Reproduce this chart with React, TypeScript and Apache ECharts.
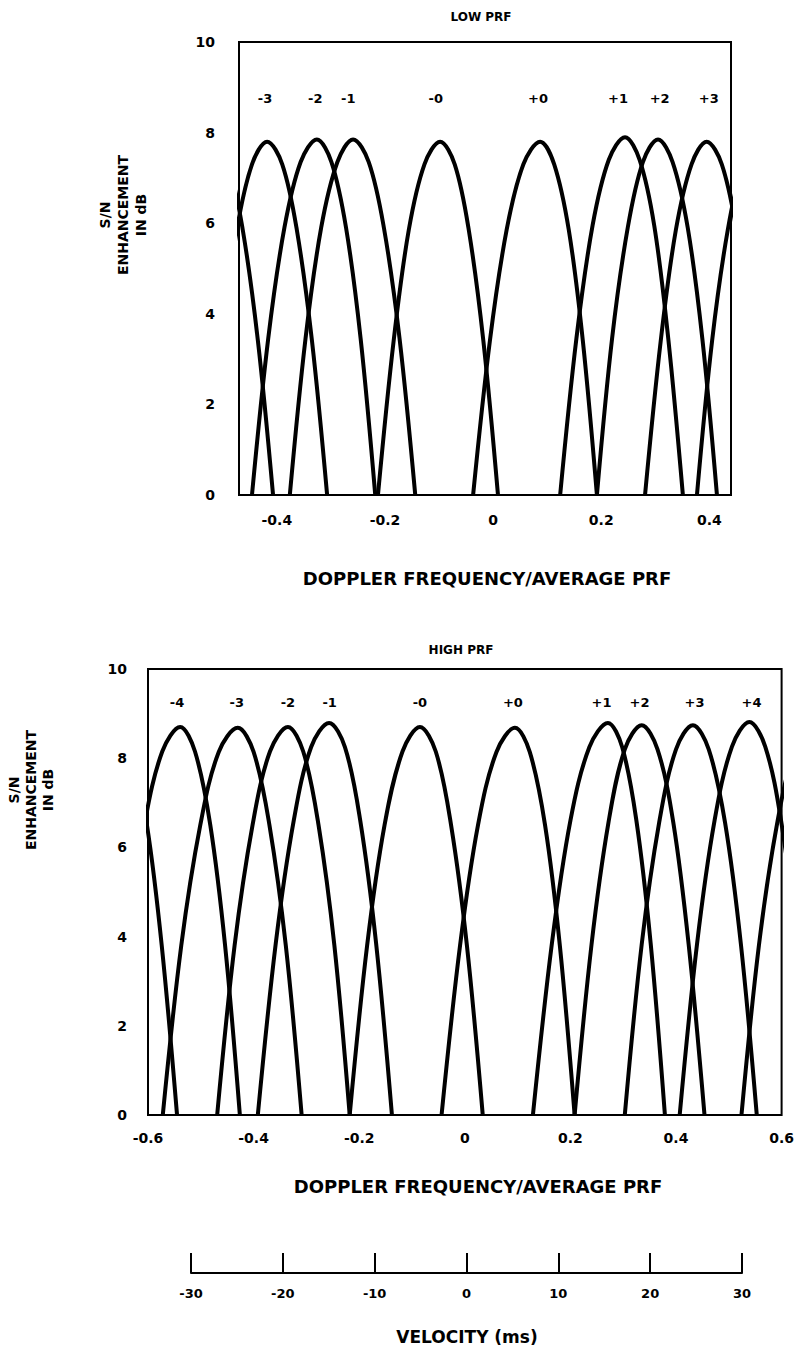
import React, { useEffect, useRef } from "react";
import * as echarts from "echarts";

// ---------- LOW PRF lobes: [Doppler frequency / average PRF, S/N enhancement dB]
const lowM4 = [[-0.629, 0], [-0.601, 3.4], [-0.574, 5.85], [-0.546, 7.3], [-0.518, 7.8], [-0.49, 7.3], [-0.463, 5.85], [-0.435, 3.4], [-0.407, 0]];
const lowM3 = [[-0.529, 0], [-0.501, 3.4], [-0.474, 5.85], [-0.446, 7.3], [-0.418, 7.8], [-0.39, 7.3], [-0.363, 5.85], [-0.335, 3.4], [-0.307, 0]];
const lowM2 = [[-0.446, 0], [-0.416, 3.45], [-0.386, 5.9], [-0.356, 7.35], [-0.326, 7.85], [-0.299, 7.35], [-0.272, 5.9], [-0.245, 3.45], [-0.218, 0]];
const lowM1 = [[-0.376, 0], [-0.347, 3.45], [-0.318, 5.9], [-0.288, 7.35], [-0.259, 7.85], [-0.23, 7.35], [-0.202, 5.9], [-0.173, 3.45], [-0.144, 0]];
const lowM0 = [[-0.213, 0], [-0.184, 3.4], [-0.156, 5.85], [-0.127, 7.3], [-0.098, 7.8], [-0.071, 7.3], [-0.045, 5.85], [-0.018, 3.4], [0.009, 0]];
const lowP0 = [[-0.037, 0], [-0.006, 3.4], [0.025, 5.85], [0.056, 7.3], [0.087, 7.8], [0.113, 7.3], [0.14, 5.85], [0.166, 3.4], [0.192, 0]];
const lowP1 = [[0.124, 0], [0.154, 3.45], [0.184, 5.95], [0.214, 7.4], [0.244, 7.9], [0.271, 7.4], [0.298, 5.95], [0.324, 3.45], [0.351, 0]];
const lowP2 = [[0.192, 0], [0.22, 3.45], [0.249, 5.9], [0.277, 7.35], [0.305, 7.85], [0.332, 7.35], [0.36, 5.9], [0.387, 3.45], [0.414, 0]];
const lowP3 = [[0.281, 0], [0.31, 3.4], [0.338, 5.85], [0.367, 7.3], [0.395, 7.8], [0.423, 7.3], [0.45, 5.85], [0.478, 3.4], [0.505, 0]];
const lowP4 = [[0.377, 0], [0.405, 3.4], [0.434, 5.85], [0.462, 7.3], [0.49, 7.8], [0.518, 7.3], [0.545, 5.85], [0.573, 3.4], [0.6, 0]];
const lowLobes = [lowM4, lowM3, lowM2, lowM1, lowM0, lowP0, lowP1, lowP2, lowP3, lowP4];

const lowLabelNames = ["-3", "-2", "-1", "-0", "+0", "+1", "+2", "+3"];
const lowLabelX = [-0.422, -0.329, -0.268, -0.106, 0.083, 0.231, 0.308, 0.399];
const lowLabelY = 8.76;
const lowTicks = [-0.4, -0.2, 0, 0.2, 0.4];

// ---------- HIGH PRF lobes
const highM5 = [[-0.772, 0], [-0.744, 3.8], [-0.716, 6.5], [-0.687, 8.15], [-0.659, 8.7], [-0.631, 8.15], [-0.602, 6.5], [-0.574, 3.8], [-0.545, 0]];
const highM4 = [[-0.676, 0], [-0.642, 3.8], [-0.607, 6.5], [-0.573, 8.15], [-0.539, 8.7], [-0.511, 8.15], [-0.482, 6.5], [-0.454, 3.8], [-0.426, 0]];
const highM3 = [[-0.572, 0], [-0.537, 3.8], [-0.501, 6.5], [-0.466, 8.14], [-0.43, 8.68], [-0.4, 8.14], [-0.37, 6.5], [-0.339, 3.8], [-0.309, 0]];
const highM2 = [[-0.469, 0], [-0.436, 3.8], [-0.402, 6.5], [-0.369, 8.15], [-0.335, 8.7], [-0.306, 8.15], [-0.277, 6.5], [-0.247, 3.8], [-0.218, 0]];
const highM1 = [[-0.392, 0], [-0.358, 3.85], [-0.324, 6.6], [-0.291, 8.25], [-0.257, 8.79], [-0.227, 8.25], [-0.198, 6.6], [-0.168, 3.85], [-0.138, 0]];
const highM0 = [[-0.218, 0], [-0.185, 3.8], [-0.152, 6.5], [-0.118, 8.15], [-0.085, 8.7], [-0.055, 8.15], [-0.026, 6.5], [0.004, 3.8], [0.034, 0]];
const highP0 = [[-0.044, 0], [-0.009, 3.8], [0.025, 6.5], [0.06, 8.14], [0.095, 8.68], [0.123, 8.14], [0.152, 6.5], [0.18, 3.8], [0.208, 0]];
const highP1 = [[0.129, 0], [0.165, 3.85], [0.2, 6.6], [0.236, 8.25], [0.271, 8.79], [0.298, 8.25], [0.325, 6.6], [0.352, 3.85], [0.379, 0]];
const highP2 = [[0.208, 0], [0.24, 3.82], [0.272, 6.55], [0.303, 8.2], [0.335, 8.74], [0.365, 8.2], [0.395, 6.55], [0.424, 3.82], [0.454, 0]];
const highP3 = [[0.303, 0], [0.335, 3.82], [0.368, 6.55], [0.4, 8.2], [0.432, 8.74], [0.462, 8.2], [0.493, 6.55], [0.523, 3.82], [0.553, 0]];
const highP4 = [[0.407, 0], [0.44, 3.85], [0.473, 6.6], [0.506, 8.26], [0.539, 8.81], [0.569, 8.26], [0.599, 6.6], [0.629, 3.85], [0.659, 0]];
const highP5 = [[0.524, 0], [0.557, 3.8], [0.591, 6.5], [0.624, 8.15], [0.657, 8.7], [0.687, 8.15], [0.716, 6.5], [0.746, 3.8], [0.776, 0]];
const highLobes = [highM5, highM4, highM3, highM2, highM1, highM0, highP0, highP1, highP2, highP3, highP4, highP5];

const highLabelNames = ["-4", "-3", "-2", "-1", "-0", "+0", "+1", "+2", "+3", "+4"];
const highLabelX = [-0.545, -0.432, -0.335, -0.256, -0.085, 0.091, 0.259, 0.331, 0.435, 0.543];
const highLabelY = 9.24;

// ---------- velocity scale (m/s)
const velocityMin = -30;
const velocityMax = 30;
const velocityStep = 10;

const FONT = "'DejaVu Sans', 'Liberation Sans', sans-serif";

const fmtFreq = (v: number) => (Math.abs(v) < 1e-9 ? "0" : v.toFixed(1));

const tickLabel = (margin: number, extra: any = {}) => ({
  color: "#000",
  fontFamily: FONT,
  fontWeight: "bold",
  fontSize: 14,
  margin,
  ...extra,
});

function lobeSeries(data: number[][], idx: number) {
  return {
    type: "line",
    xAxisIndex: idx,
    yAxisIndex: idx,
    data,
    smooth: 0.35,
    symbol: "none",
    showSymbol: false,
    clip: true,
    silent: true,
    lineStyle: { color: "#000", width: 4 },
    z: 3,
  };
}

function labelSeries(names: string[], xs: number[], y: number, idx: number) {
  return {
    type: "scatter",
    xAxisIndex: idx,
    yAxisIndex: idx,
    symbolSize: 0,
    silent: true,
    itemStyle: { color: "#000", opacity: 1 },
    label: {
      show: true,
      position: "inside",
      formatter: (p: any) => p.name,
      color: "#000",
      opacity: 1,
      fontFamily: FONT,
      fontWeight: "bold",
      fontSize: 13,
    },
    data: names.map((n, i) => ({ name: n, value: [xs[i], y] })),
  };
}

export default function App() {
  const ref = useRef<HTMLDivElement>(null);

  useEffect(() => {
    if (!ref.current) return;
    const chart = echarts.init(ref.current, undefined, { renderer: "svg" });

    const titleStyle = (text: string, size: number) => ({
      text,
      fill: "#000",
      font: `bold ${size}px ${FONT}`,
      textAlign: "center",
      textVerticalAlign: "middle",
    });

    const option: any = {
      animation: false,
      backgroundColor: "#fff",
      grid: [
        { left: 239, top: 42, width: 492, height: 453, show: true, borderColor: "#000", borderWidth: 2, backgroundColor: "transparent" },
        { left: 148, top: 669, width: 634, height: 446, show: true, borderColor: "#000", borderWidth: 2, backgroundColor: "transparent" },
        { left: 191, top: 1250, width: 551, height: 23, show: false },
      ],
      xAxis: [
        {
          gridIndex: 0,
          type: "value",
          min: -0.47,
          max: 0.44,
          splitLine: { show: false },
          axisLine: { show: false },
          axisTick: { show: false },
          axisLabel: tickLabel(18, { customValues: lowTicks, formatter: fmtFreq }),
        },
        {
          gridIndex: 1,
          type: "value",
          min: -0.6,
          max: 0.6,
          interval: 0.2,
          splitLine: { show: false },
          axisLine: { show: false },
          axisTick: { show: false },
          axisLabel: tickLabel(16, { formatter: fmtFreq }),
        },
        {
          gridIndex: 2,
          type: "value",
          min: velocityMin,
          max: velocityMax,
          interval: velocityStep,
          splitLine: { show: false },
          axisLine: { show: true, lineStyle: { color: "#000", width: 2 } },
          axisTick: { show: true, inside: true, length: 20, lineStyle: { color: "#000", width: 2 } },
          axisLabel: tickLabel(14, { fontSize: 13, formatter: (v: number) => String(v) }),
        },
      ],
      yAxis: [
        {
          gridIndex: 0,
          type: "value",
          min: 0,
          max: 10,
          interval: 2,
          splitLine: { show: false },
          axisLine: { show: false },
          axisTick: { show: false },
          axisLabel: tickLabel(24),
        },
        {
          gridIndex: 1,
          type: "value",
          min: 0,
          max: 10,
          interval: 2,
          splitLine: { show: false },
          axisLine: { show: false },
          axisTick: { show: false },
          axisLabel: tickLabel(21),
        },
        { gridIndex: 2, type: "value", min: 0, max: 1, show: false },
      ],
      graphic: [
        { type: "text", x: 481, y: 17, style: titleStyle("LOW PRF", 12) },
        { type: "text", x: 461, y: 650, style: titleStyle("HIGH PRF", 12) },
        { type: "text", x: 487, y: 578, style: titleStyle("DOPPLER FREQUENCY/AVERAGE PRF", 18) },
        { type: "text", x: 478, y: 1186, style: titleStyle("DOPPLER FREQUENCY/AVERAGE PRF", 18) },
        { type: "text", x: 467, y: 1337, style: titleStyle("VELOCITY (ms)", 17) },
        {
          type: "text",
          x: 123,
          y: 215,
          rotation: Math.PI / 2,
          style: { ...titleStyle("S/N\nENHANCEMENT\nIN dB", 14), lineHeight: 18 },
        },
        {
          type: "text",
          x: 31,
          y: 790,
          rotation: Math.PI / 2,
          style: { ...titleStyle("S/N\nENHANCEMENT\nIN dB", 14), lineHeight: 17 },
        },
      ],
      series: [
        ...lowLobes.map((d) => lobeSeries(d, 0)),
        ...highLobes.map((d) => lobeSeries(d, 1)),
        labelSeries(lowLabelNames, lowLabelX, lowLabelY, 0),
        labelSeries(highLabelNames, highLabelX, highLabelY, 1),
        { type: "line", xAxisIndex: 2, yAxisIndex: 2, data: [], silent: true },
      ],
    };

    chart.setOption(option);
    return () => chart.dispose();
  }, []);

  return (
    <div
      ref={ref}
      style={{ position: "absolute", left: 0, top: 0, width: 797, height: 1350, background: "#fff" }}
    />
  );
}
